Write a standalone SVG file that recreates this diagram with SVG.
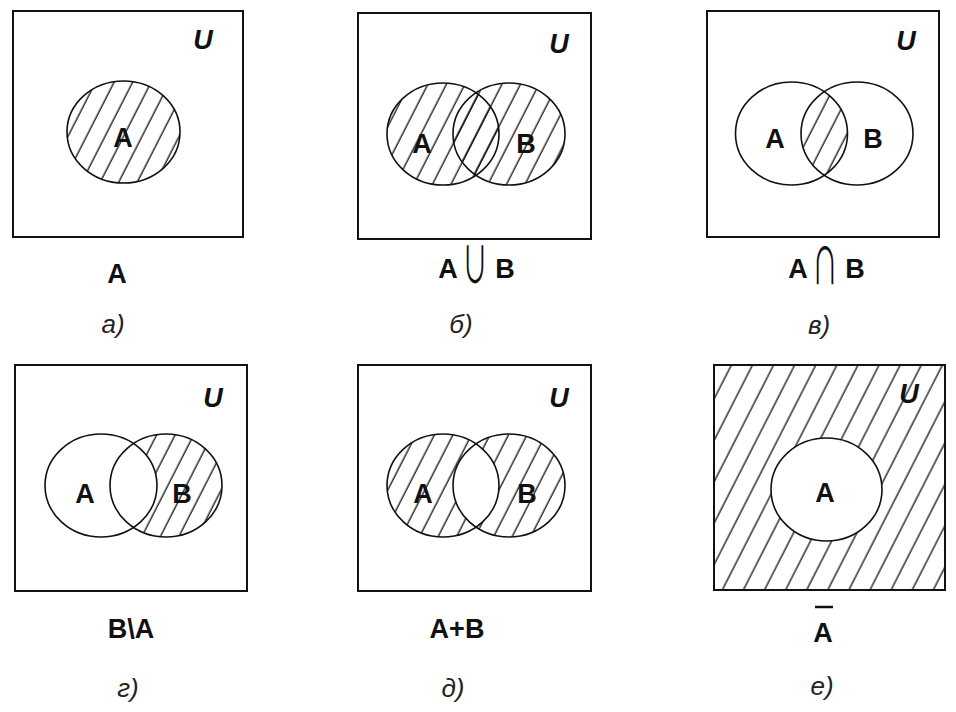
<svg xmlns="http://www.w3.org/2000/svg" width="956" height="712" viewBox="0 0 956 712">
<style>
.box{fill:none;stroke:#111;stroke-width:2}
.ol{fill:none;stroke:#111;stroke-width:1.6}
.lbl{font-family:"Liberation Sans",Arial,sans-serif;font-weight:bold;font-size:27px;fill:#111;text-anchor:middle}
.u{font-family:"Liberation Sans",Arial,sans-serif;font-weight:bold;font-style:italic;font-size:27px;fill:#111;text-anchor:middle}
.cap{font-family:"Liberation Sans",Arial,sans-serif;font-style:italic;font-size:26px;fill:#222;text-anchor:middle}
.sym{font-family:"Noto Sans CJK JP","DejaVu Sans",sans-serif;font-size:30px;fill:#111;text-anchor:middle}
</style>
<defs>
<pattern id="h" patternUnits="userSpaceOnUse" width="16.5" height="40" patternTransform="rotate(27)">
<line x1="7" y1="-5" x2="7" y2="45" stroke="#111" stroke-width="1.3"/>
</pattern>
<pattern id="h2" patternUnits="userSpaceOnUse" width="18.8" height="40" patternTransform="rotate(27)">
<line x1="9" y1="-5" x2="9" y2="45" stroke="#111" stroke-width="1.3"/>
</pattern>
<clipPath id="clipBv"><ellipse cx="857" cy="133.5" rx="56" ry="51.5"/></clipPath>
</defs>
<rect width="956" height="712" fill="#fff"/>

<g id="panel-a">
<rect class="box" x="13" y="11" width="230" height="226"/>
<ellipse cx="123.5" cy="132" rx="56.5" ry="51" fill="url(#h)"/>
<ellipse class="ol" cx="123.5" cy="132" rx="56.5" ry="51"/>
<text class="lbl" x="123" y="147">A</text>
<text class="u" x="203" y="49">U</text>
<text class="lbl" x="117" y="283">A</text>
<text class="cap" x="113" y="333">а)</text>
</g>

<g id="panel-b">
<rect class="box" x="358" y="13" width="233" height="226"/>
<ellipse cx="443" cy="134" rx="56" ry="51" fill="url(#h)"/>
<ellipse cx="509" cy="134" rx="56" ry="51" fill="url(#h)"/>
<ellipse class="ol" cx="443" cy="134" rx="56" ry="51"/>
<ellipse class="ol" cx="509" cy="134" rx="56" ry="51"/>
<text class="lbl" x="422" y="153">A</text>
<text class="lbl" x="526" y="153">B</text>
<text class="u" x="559" y="53">U</text>
<text class="lbl" x="448" y="278">A</text>
<text class="sym" transform="translate(475,283) scale(0.85,1.65)" x="0" y="0">∪</text>
<text class="lbl" x="505" y="278">B</text>
<text class="cap" x="461" y="333">б)</text>
</g>

<g id="panel-c">
<rect class="box" x="707" y="11" width="232" height="226"/>
<ellipse cx="791.5" cy="133.5" rx="56" ry="51.5" fill="url(#h)" clip-path="url(#clipBv)"/>
<ellipse class="ol" cx="791.5" cy="133.5" rx="56" ry="51.5"/>
<ellipse class="ol" cx="857" cy="133.5" rx="56" ry="51.5"/>
<text class="lbl" x="775" y="148">A</text>
<text class="lbl" x="873" y="148">B</text>
<text class="u" x="906" y="50">U</text>
<text class="lbl" x="798" y="278">A</text>
<text class="sym" transform="translate(825,284) scale(0.85,1.65)" x="0" y="0">∩</text>
<text class="lbl" x="855" y="278">B</text>
<text class="cap" x="819" y="334">в)</text>
</g>

<g id="panel-d">
<rect class="box" x="15" y="365" width="232" height="226"/>
<ellipse cx="166" cy="485.5" rx="56" ry="51.5" fill="url(#h)"/>
<ellipse cx="101" cy="485.5" rx="56" ry="51.5" fill="#fff"/>
<ellipse class="ol" cx="101" cy="485.5" rx="56" ry="51.5"/>
<ellipse class="ol" cx="166" cy="485.5" rx="56" ry="51.5"/>
<text class="lbl" x="85" y="503">A</text>
<text class="lbl" x="182" y="503">B</text>
<text class="u" x="213" y="407">U</text>
<text class="lbl" x="131" y="638">B\A</text>
<text class="cap" x="128" y="697">г)</text>
</g>

<g id="panel-e">
<rect class="box" x="358" y="365" width="233" height="226"/>
<path fill="url(#h)" fill-rule="evenodd" d="M387,485.5 a56,51.5 0 1,0 112,0 a56,51.5 0 1,0 -112,0 Z M453,485.5 a56,51.5 0 1,0 112,0 a56,51.5 0 1,0 -112,0 Z"/>
<ellipse class="ol" cx="443" cy="485.5" rx="56" ry="51.5"/>
<ellipse class="ol" cx="509" cy="485.5" rx="56" ry="51.5"/>
<text class="lbl" x="423" y="503">A</text>
<text class="lbl" x="527" y="503">B</text>
<text class="u" x="559" y="407">U</text>
<text class="lbl" x="457" y="638">A+B</text>
<text class="cap" x="453" y="697">д)</text>
</g>

<g id="panel-f">
<path fill="url(#h2)" fill-rule="evenodd" d="M714,365 H945 V590 H714 Z M771,489.5 a55.5,51.5 0 1,0 111,0 a55.5,51.5 0 1,0 -111,0 Z"/>
<rect class="box" x="714" y="365" width="231" height="225"/>
<ellipse class="ol" cx="826.5" cy="489.5" rx="55.5" ry="51.5"/>
<text class="lbl" x="825" y="502">A</text>
<text class="u" x="909" y="403">U</text>
<line x1="815" y1="607" x2="833" y2="607" stroke="#111" stroke-width="2.5"/>
<text class="lbl" x="823" y="642">A</text>
<text class="cap" x="822" y="695">е)</text>
</g>
</svg>
